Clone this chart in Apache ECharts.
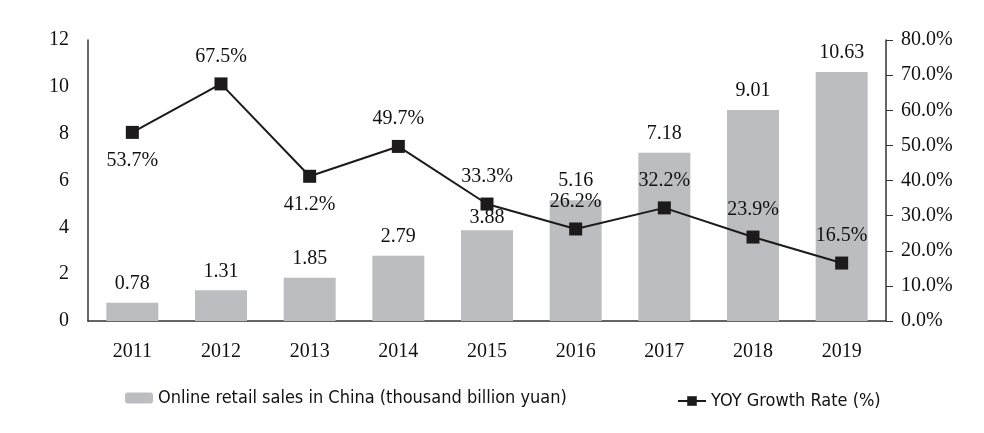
<!DOCTYPE html>
<html>
<head>
<meta charset="utf-8">
<script src="https://cdn.jsdelivr.net/npm/echarts@6/dist/echarts.min.js"></script>
<style>
  html, body { margin: 0; padding: 0; background: #fff; }
  #chart { width: 984px; height: 433px; }
</style>
</head>
<body>
<div id="chart"></div>
<script>
var years = ["2011", "2012", "2013", "2014", "2015", "2016", "2017", "2018", "2019"];
var sales = [0.78, 1.31, 1.85, 2.79, 3.88, 5.16, 7.18, 9.01, 10.63];
var growth = [53.7, 67.5, 41.2, 49.7, 33.3, 26.2, 32.2, 23.9, 16.5];
// label placed under the point for these years
var labelBelow = ["2011", "2013"];

var serif = "Liberation Serif, Times New Roman, serif";
var sans = "DejaVu Sans Condensed, DejaVu Sans";
var chart = echarts.init(document.getElementById("chart"));

chart.setOption({
  animation: false,
  grid: { left: 88, right: 98, top: 40, bottom: 112 },
  legend: [
    {
      data: ["Online retail sales in China (thousand billion yuan)"],
      left: 120, top: 384,
      itemWidth: 28, itemHeight: 11, itemGap: 10,
      textStyle: { fontFamily: sans, fontSize: 18, color: "#111" }
    },
    {
      data: ["YOY Growth Rate (%)"],
      left: 672, top: 387,
      itemWidth: 28, itemHeight: 12,
      textStyle: { fontFamily: sans, fontSize: 18, color: "#111" }
    }
  ],
  xAxis: {
    type: "category",
    data: years,
    axisLine: { lineStyle: { color: "#333", width: 1.5 } },
    axisTick: { show: false },
    axisLabel: { fontFamily: serif, fontSize: 20, color: "#111", margin: 21 }
  },
  yAxis: [
    {
      type: "value",
      min: 0, max: 12, interval: 2,
      splitLine: { show: false },
      axisLine: { show: true, lineStyle: { color: "#333", width: 1.5 } },
      axisTick: { show: false },
      axisLabel: { fontFamily: serif, fontSize: 20, color: "#111", margin: 19 }
    },
    {
      type: "value",
      min: 0, max: 80, interval: 10,
      splitLine: { show: false },
      axisLine: { show: true, lineStyle: { color: "#333", width: 1.5 } },
      axisTick: { show: true, inside: false, length: 7, lineStyle: { color: "#333" } },
      axisLabel: {
        fontFamily: serif, fontSize: 20, color: "#111", margin: 15,
        formatter: function (v) { return v.toFixed(1) + "%"; }
      }
    }
  ],
  series: [
    {
      name: "Online retail sales in China (thousand billion yuan)",
      type: "bar",
      data: sales.map(function (v, i) {
        // 2015 label sits tight on the bar, below the line marker
        return years[i] === "2015" ? { value: v, label: { distance: 2 } } : v;
      }),
      barWidth: 52,
      itemStyle: { color: "#bcbdc1" },
      label: {
        show: true, position: "top", distance: 9,
        fontFamily: serif, fontSize: 20, color: "#111"
      }
    },
    {
      name: "YOY Growth Rate (%)",
      type: "line",
      yAxisIndex: 1,
      data: growth.map(function (v, i) {
        var below = labelBelow.indexOf(years[i]) >= 0;
        return { value: v, label: { position: below ? "bottom" : "top", distance: below ? 12 : 11 } };
      }),
      symbol: "rect",
      symbolSize: 13,
      lineStyle: { color: "#1c1a1b", width: 2 },
      itemStyle: { color: "#1c1a1b" },
      label: {
        show: true,
        fontFamily: serif, fontSize: 20, color: "#111",
        formatter: function (p) { return p.value.toFixed(1) + "%"; }
      }
    }
  ]
});
</script>
</body>
</html>
